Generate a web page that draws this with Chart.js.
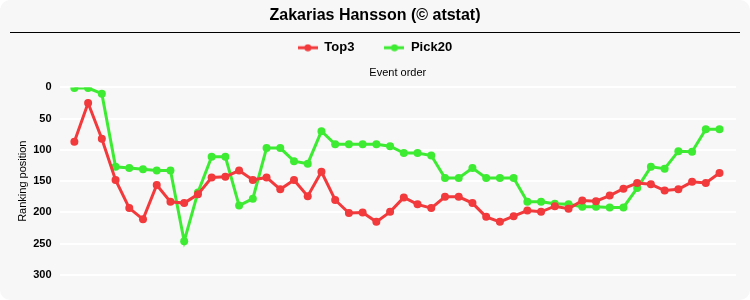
<!DOCTYPE html>
<html>
<head>
<meta charset="utf-8">
<script src="https://cdn.jsdelivr.net/npm/chart.js@4/dist/chart.umd.min.js"></script>
<style>
  html, body { margin: 0; padding: 0; background: #ffffff; }
  #wrap { width: 750px; height: 300px; background: #f7f7f7; border-radius: 10px; overflow: hidden; position: relative; }
  canvas { display: block; }
</style>
</head>
<body>
<div id="wrap"><canvas id="c" width="750" height="300"></canvas></div>
<script>
const chartTitle = 'Zakarias Hansson (© atstat)';
const xTitle = 'Event order';
const yTitle = 'Ranking position';
const events = [1,2,3,4,5,6,7,8,9,10,11,12,13,14,15,16,17,18,19,20,21,22,23,24,25,26,27,28,29,30,31,32,33,34,35,36,37,38,39,40,41,42,43,44,45,46,47,48];
const top3 = [87,25,82,148,193,211,156,183,185,171,144,143,133,148,144,163,148,174,135,180,201,200,215,199,176,187,193,175,175,185,207,215,206,197,199,190,194,181,182,173,162,153,155,165,163,151,153,137];
const pick20 = [1,1,10,127,129,131,133,133,246,168,111,111,189,178,97,97,118,122,70,91,91,91,91,94,105,105,109,145,145,129,145,145,145,183,183,186,187,191,191,192,192,161,127,130,102,103,67,67];
const yTicks = [0, 50, 100, 150, 200, 250, 300];
const seriesNames = ['Top3', 'Pick20'];
const seriesColors = ['#f2393b', '#3deb33'];

function legendIcon(color) {
  const c = document.createElement('canvas');
  c.width = 20; c.height = 8;
  const g = c.getContext('2d');
  g.strokeStyle = color; g.lineWidth = 3;
  g.beginPath(); g.moveTo(0, 4); g.lineTo(20, 4); g.stroke();
  g.fillStyle = color;
  g.beginPath(); g.arc(10, 4, 3.5, 0, Math.PI * 2); g.fill();
  return c;
}

const titleLine = {
  id: 'titleLine',
  afterDraw(chart) {
    const ctx = chart.ctx;
    ctx.save();
    ctx.strokeStyle = '#000';
    ctx.lineWidth = 1.2;
    ctx.beginPath();
    ctx.moveTo(10, 32.5);
    ctx.lineTo(740, 32.5);
    ctx.stroke();
    ctx.restore();
  }
};

const mk = (vals) => events.map((e, i) => ({ x: e, y: vals[i] }));

new Chart(document.getElementById('c'), {
  type: 'line',
  data: {
    datasets: [
      { label: seriesNames[0], data: mk(top3), borderColor: seriesColors[0], backgroundColor: seriesColors[0],
        borderWidth: 3, pointRadius: 4, pointBorderWidth: 0, pointHoverRadius: 4, tension: 0, pointStyle: 'circle' },
      { label: seriesNames[1], data: mk(pick20), borderColor: seriesColors[1], backgroundColor: seriesColors[1],
        borderWidth: 3, pointRadius: 4, pointBorderWidth: 0, pointHoverRadius: 4, tension: 0, pointStyle: 'circle' }
    ]
  },
  options: {
    responsive: false,
    animation: false,
    layout: { padding: { left: 14, right: 14, top: 0, bottom: 25 } },
    plugins: {
      title: {
        display: true, text: chartTitle, color: '#000',
        font: { family: 'Liberation Sans, Arial, sans-serif', size: 16, weight: 'bold' },
        padding: { top: 6, bottom: -14 }
      },
      legend: {
        display: true,
        maxHeight: 53,
        labels: {
          usePointStyle: true,
          pointStyleWidth: 20,
          generateLabels: (chart) => chart.data.datasets.map((ds, i) => ({
            text: ds.label, pointStyle: legendIcon(seriesColors[i]), fillStyle: seriesColors[i],
            strokeStyle: seriesColors[i], lineWidth: 0, datasetIndex: i, hidden: false
          })),
          color: '#000',
          font: { family: 'Liberation Sans, Arial, sans-serif', size: 13, weight: 'bold' },
          padding: 30
        }
      },
      tooltip: { enabled: false }
    },
    scales: {
      x: {
        type: 'linear', position: 'top', min: -0.08, max: 49.2,
        grid: { display: false }, border: { display: false },
        ticks: { display: false },
        title: { display: true, text: xTitle, color: '#000',
          font: { family: 'Liberation Sans, Arial, sans-serif', size: 11 }, padding: { top: 2, bottom: 0 } }
      },
      y: {
        reverse: true, min: 0, max: 300,
        afterBuildTicks: (axis) => { axis.ticks = yTicks.map(v => ({ value: v })); },
        grid: { color: '#ffffff', lineWidth: 2, drawTicks: false }, border: { display: false },
        ticks: { color: '#000', padding: 8,
          font: { family: 'Liberation Sans, Arial, sans-serif', size: 11, weight: 'bold' } },
        title: { display: true, text: yTitle, color: '#000',
          font: { family: 'Liberation Sans, Arial, sans-serif', size: 11 }, padding: { top: 2, bottom: -4 } }
      }
    }
  },
  plugins: [titleLine]
});
</script>
</body>
</html>
